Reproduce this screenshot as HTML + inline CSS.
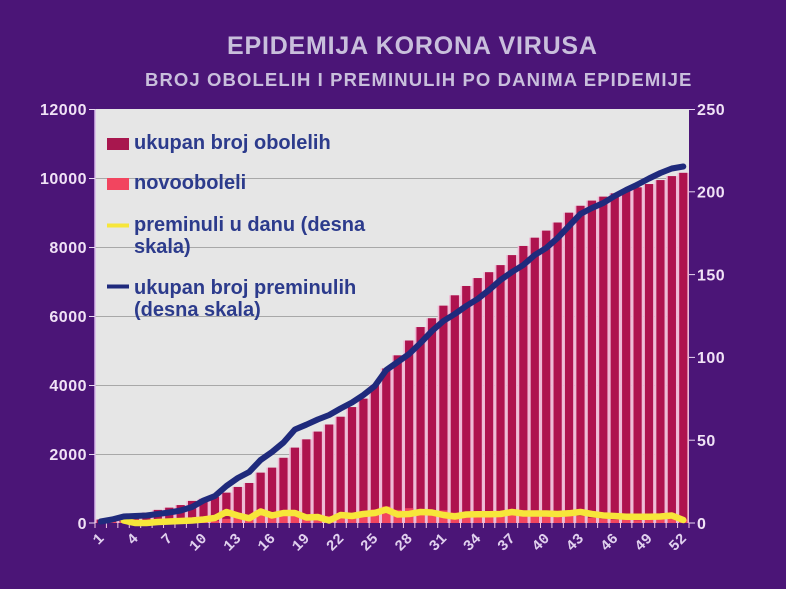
<!DOCTYPE html>
<html>
<head>
<meta charset="utf-8">
<style>
html,body{margin:0;padding:0;background:#4b1577;}
svg{display:block;}
.t{font-family:"Liberation Sans",Arial,sans-serif;font-weight:bold;}
.ax{font-family:"Liberation Sans",Arial,sans-serif;font-weight:bold;font-size:16px;fill:#f0e2f6;letter-spacing:0.5px;}
.xl{font-family:"Liberation Mono","DejaVu Sans Mono",monospace;font-weight:bold;font-size:15px;fill:#e0d0ee;}
.lg{font-family:"Liberation Sans",Arial,sans-serif;font-weight:bold;font-size:20px;fill:#2c3b8c;}
</style>
</head>
<body>
<svg id="s" width="786" height="589" viewBox="0 0 786 589" xmlns="http://www.w3.org/2000/svg">
<rect x="0" y="0" width="786" height="589" fill="#4b1577"/>
<text class="t" x="227" y="54" font-size="25" fill="#c9bfdc" letter-spacing="0.8">EPIDEMIJA KORONA VIRUSA</text>
<text class="t" x="145" y="86" font-size="18.5" fill="#c9bfdc" letter-spacing="1.1">BROJ OBOLELIH I PREMINULIH PO DANIMA EPIDEMIJE</text>

<rect x="95" y="109" width="594" height="414" fill="#e6e6e6"/>
<g stroke="#a8a8a8" stroke-width="1">
<line x1="95" y1="178.5" x2="689" y2="178.5"/>
<line x1="95" y1="247.5" x2="689" y2="247.5"/>
<line x1="95" y1="316.5" x2="689" y2="316.5"/>
<line x1="95" y1="385.5" x2="689" y2="385.5"/>
<line x1="95" y1="454.5" x2="689" y2="454.5"/>
</g>
<line x1="95" y1="109" x2="95" y2="523" stroke="#d8b8e8" stroke-width="1.5"/>

<g stroke="#e8d8f0" stroke-width="1">
<line x1="89" y1="109.5" x2="95" y2="109.5"/>
<line x1="89" y1="178.5" x2="95" y2="178.5"/>
<line x1="89" y1="247.5" x2="95" y2="247.5"/>
<line x1="89" y1="316.5" x2="95" y2="316.5"/>
<line x1="89" y1="385.5" x2="95" y2="385.5"/>
<line x1="89" y1="454.5" x2="95" y2="454.5"/>
<line x1="89" y1="523" x2="95" y2="523"/>
<line x1="689" y1="109.5" x2="695" y2="109.5"/>
<line x1="689" y1="191.8" x2="695" y2="191.8"/>
<line x1="689" y1="274.6" x2="695" y2="274.6"/>
<line x1="689" y1="357.4" x2="695" y2="357.4"/>
<line x1="689" y1="440.2" x2="695" y2="440.2"/>
<line x1="689" y1="523" x2="695" y2="523"/>
</g>
<g id="bticks" stroke="#f0c8e0" stroke-width="1"></g>

<g id="bars"></g>

<polyline fill="none" stroke="#f7e63a" stroke-width="6.5" stroke-linejoin="round" stroke-linecap="round" points="123.6,520.5 135,523 146.4,523 157.8,522 169.2,521.5 180.7,521 192.1,520.5 203.5,519.5 214.9,518 226.4,512 237.8,515.5 249.2,518.3 260.6,511.5 272,515.5 283.5,513 294.9,513 306.3,517.5 317.7,517 329.2,520.5 340.6,515 352,516 363.4,514 374.8,513 386.3,509.5 397.7,514.5 409.1,514 420.5,512 432,512.5 443.4,515 454.8,516.5 466.2,514.5 477.6,514.3 489.1,514.3 500.5,514 511.9,512 523.3,513.5 534.8,513.5 546.2,513.5 557.6,514 569,513.3 580.4,512 591.9,514 603.3,515.5 614.7,516 626.1,516.7 637.6,516.7 649,516.7 660.4,516.5 671.8,515.5 683.3,520"/>

<polyline fill="none" stroke="#1f2a7c" stroke-width="6" stroke-linejoin="round" stroke-linecap="round" points="100.7,521.5 112.1,519.5 123.6,516.5 135,516 146.4,515.5 157.8,514 169.2,512.5 180.7,510.5 192.1,507 203.5,500.5 214.9,496 226.4,486 237.8,478 249.2,472 260.6,460 272,452 283.5,442.5 294.9,429.5 306.3,424.7 317.7,419.5 329.2,415 340.6,408.5 352,402.5 363.4,395 374.8,386 386.3,370 397.7,362 409.1,354 420.5,343 432,331 443.4,321 454.8,314 466.2,306 477.6,299 489.1,290 500.5,280 511.9,272 523.3,265 534.8,255 546.2,248 557.6,238 569,226 580.4,214 591.9,208 603.3,203 614.7,196 626.1,190 637.6,184.5 649,178.5 660.4,173 671.8,168.5 683.3,166.5"/>

<g class="ax" text-anchor="end">
<text x="87" y="115">12000</text>
<text x="87" y="184">10000</text>
<text x="87" y="253">8000</text>
<text x="87" y="322">6000</text>
<text x="87" y="391">4000</text>
<text x="87" y="460">2000</text>
<text x="87" y="529">0</text>
</g>
<g class="ax">
<text x="697" y="115">250</text>
<text x="697" y="197.5">200</text>
<text x="697" y="280.5">150</text>
<text x="697" y="363">100</text>
<text x="697" y="446">50</text>
<text x="697" y="529">0</text>
</g>

<g class="xl" text-anchor="end">
<text transform="translate(104.7,539) rotate(-45)">1</text>
<text transform="translate(139,539) rotate(-45)">4</text>
<text transform="translate(173.2,539) rotate(-45)">7</text>
<text transform="translate(207.5,539) rotate(-45)">10</text>
<text transform="translate(241.8,539) rotate(-45)">13</text>
<text transform="translate(276,539) rotate(-45)">16</text>
<text transform="translate(310.3,539) rotate(-45)">19</text>
<text transform="translate(344.6,539) rotate(-45)">22</text>
<text transform="translate(378.8,539) rotate(-45)">25</text>
<text transform="translate(413.1,539) rotate(-45)">28</text>
<text transform="translate(447.4,539) rotate(-45)">31</text>
<text transform="translate(481.6,539) rotate(-45)">34</text>
<text transform="translate(515.9,539) rotate(-45)">37</text>
<text transform="translate(550.2,539) rotate(-45)">40</text>
<text transform="translate(584.4,539) rotate(-45)">43</text>
<text transform="translate(618.7,539) rotate(-45)">46</text>
<text transform="translate(653,539) rotate(-45)">49</text>
<text transform="translate(687.3,539) rotate(-45)">52</text>
</g>

<rect x="107" y="138" width="22" height="12" fill="#a8174e"/>
<text class="lg" x="134" y="149">ukupan broj obolelih</text>
<rect x="107" y="178" width="22" height="12" fill="#f2455f"/>
<text class="lg" x="134" y="189">novooboleli</text>
<line x1="107" y1="225.5" x2="129" y2="225.5" stroke="#f7e63a" stroke-width="4"/>
<text class="lg" x="134" y="231">preminuli u danu (desna</text>
<text class="lg" x="134" y="253">skala)</text>
<line x1="107" y1="286.5" x2="129" y2="286.5" stroke="#1f2a7c" stroke-width="4"/>
<text class="lg" x="134" y="294">ukupan broj preminulih</text>
<text class="lg" x="134" y="316">(desna skala)</text>
</svg>
<script>
(function(){
var NS="http://www.w3.org/2000/svg";
var cum=[100,130,160,220,300,380,445,520,640,700,760,880,1045,1160,1460,1605,1890,2185,2425,2650,2855,3080,3360,3605,4000,4480,4860,5290,5680,5935,6300,6600,6870,7100,7270,7475,7765,8030,8270,8475,8710,8995,9195,9345,9460,9555,9650,9730,9825,9940,10055,10150];
var nw=[0,30,30,60,80,80,65,75,120,60,60,120,165,115,300,145,285,295,240,225,205,225,280,245,395,480,380,430,390,255,365,300,270,230,170,205,290,265,240,205,235,285,200,150,115,95,95,80,95,115,115,95];
var W=594/52, k=414/12000, BW=8.2;
var g=document.getElementById('bars');
var bt=document.getElementById('bticks');
function r(x,y,w,h,f){var e=document.createElementNS(NS,'rect');e.setAttribute('x',x);e.setAttribute('y',y);e.setAttribute('width',w);e.setAttribute('height',h);e.setAttribute('fill',f);g.appendChild(e);}
for(var i=0;i<52;i++){
  var cx=95+(i+0.5)*W;
  var h=cum[i]*k;
  r(cx-W/2,523-h,W,h,'#efbad5');
}
for(var i=0;i<52;i++){
  var cx=95+(i+0.5)*W;
  var h=cum[i]*k;
  r(cx-BW/2,523-h,BW,h,'#ae134e');
  var h2=nw[i]*k;
  if(h2>0) r(cx-BW/2,523-h2,BW,h2,'#f2455f');
}
for(var i=0;i<=52;i++){
  var x=95+i*W;
  var l=document.createElementNS(NS,'line');
  l.setAttribute('x1',x);l.setAttribute('x2',x);l.setAttribute('y1',523);l.setAttribute('y2',528);
  bt.appendChild(l);
}
})();
</script>
</body>
</html>
